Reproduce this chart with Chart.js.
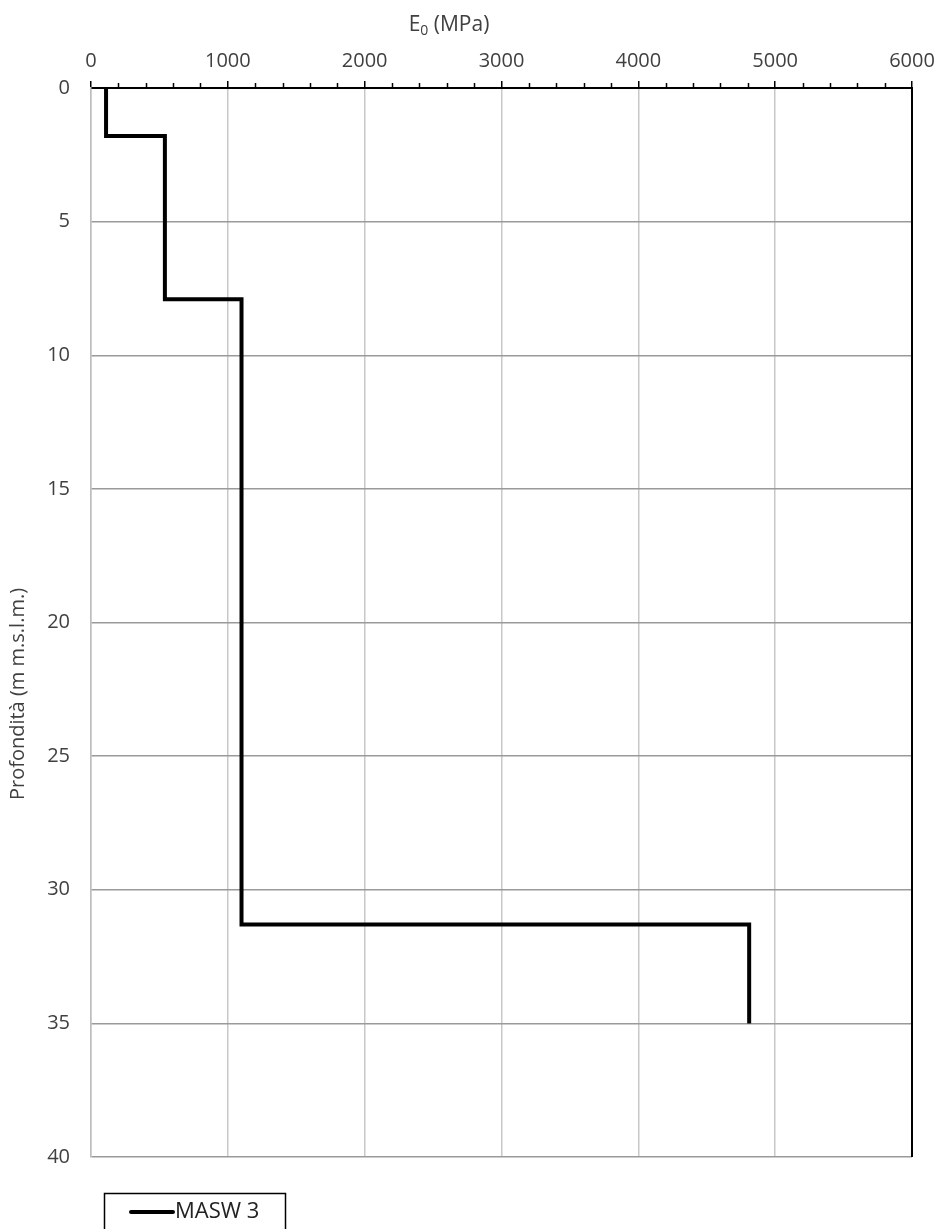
<!DOCTYPE html>
<html>
<head>
<meta charset="utf-8">
<script src="https://cdn.jsdelivr.net/npm/chart.js@4/dist/chart.umd.min.js"></script>
<style>
  html, body { margin: 0; padding: 0; background: #ffffff; }
  #wrap { width: 939px; height: 1229px; position: relative; }
  canvas { display: block; }
</style>
</head>
<body>
<div id="wrap"><canvas id="c" width="939" height="1229"></canvas></div>
<script>
// ---- Data ----
const seriesName = 'MASW 3';
const E0_values = [110, 110, 540, 540, 1100, 1100, 4810, 4810];      // MPa
const depth_values = [0, 1.8, 1.8, 7.9, 7.9, 31.3, 31.3, 35];        // m
const xAxisMin = 0, xAxisMax = 6000, xMajorStep = 1000, xMinorStep = 200;
const yAxisMin = 0, yAxisMax = 40, yStep = 5;
const xTitleMain = 'E';
const xTitleSub = '0';
const xTitleRest = ' (MPa)';
const yTitle = 'Profondità (m m.s.l.m.)';

const FONT = "'Open Sans', 'Liberation Sans', sans-serif";
const TEXT_COLOR = '#404040';

const points = E0_values.map((x, i) => ({ x: x, y: depth_values[i] }));

const decorPlugin = {
  id: 'decor',
  afterDraw(chart) {
    const ctx = chart.ctx;
    const xs = chart.scales.x;
    const a = chart.chartArea;
    ctx.save();
    // minor ticks on top axis
    ctx.strokeStyle = '#000';
    ctx.lineWidth = 1.5;
    for (let v = xAxisMin; v <= xAxisMax; v += xMinorStep) {
      if (v % xMajorStep === 0) continue;
      const px = Math.round(xs.getPixelForValue(v)) + 0.5;
      ctx.beginPath();
      ctx.moveTo(px, a.top);
      ctx.lineTo(px, a.top - 5);
      ctx.stroke();
    }
    // right border (black)
    ctx.lineWidth = 2;
    ctx.beginPath();
    ctx.moveTo(a.right, a.top - 1);
    ctx.lineTo(a.right, a.bottom);
    ctx.stroke();

    // x title with subscript
    ctx.fillStyle = TEXT_COLOR;
    ctx.textBaseline = 'alphabetic';
    ctx.textAlign = 'left';
    const mainFont = '21px ' + FONT;
    const subFont = '14px ' + FONT;
    ctx.font = mainFont;
    const wE = ctx.measureText(xTitleMain).width;
    const wR = ctx.measureText(xTitleRest).width;
    ctx.font = subFont;
    const wS = ctx.measureText(xTitleSub).width;
    const total = wE + wS + wR;
    const cx = 449;
    let x0 = cx - total / 2;
    const base = 31;
    ctx.font = mainFont;
    ctx.fillText(xTitleMain, x0, base);
    ctx.font = subFont;
    ctx.fillText(xTitleSub, x0 + wE, base + 4);
    ctx.font = mainFont;
    ctx.fillText(xTitleRest, x0 + wE + wS, base);

    // y title rotated
    ctx.save();
    ctx.translate(18, 694);
    ctx.rotate(-Math.PI / 2);
    ctx.textAlign = 'center';
    ctx.textBaseline = 'middle';
    ctx.font = '20px ' + FONT;
    ctx.fillText(yTitle, 0, 0);
    ctx.restore();

    // legend box
    const ds = chart.data.datasets[0];
    ctx.strokeStyle = '#000';
    ctx.lineWidth = 1.5;
    ctx.strokeRect(104.5, 1193.5, 181, 60);
    ctx.lineWidth = 4;
    ctx.lineCap = 'round';
    ctx.beginPath();
    ctx.moveTo(131, 1212);
    ctx.lineTo(173, 1212);
    ctx.stroke();
    ctx.fillStyle = '#222';
    ctx.font = '22px ' + FONT;
    ctx.textAlign = 'left';
    ctx.textBaseline = 'middle';
    ctx.fillText(ds.label, 175, 1212);
    ctx.restore();
  }
};

new Chart(document.getElementById('c'), {
  type: 'scatter',
  data: {
    datasets: [{
      label: seriesName,
      data: points,
      showLine: true,
      borderColor: '#000000',
      backgroundColor: '#000000',
      borderWidth: 4,
      pointRadius: 0,
      pointHoverRadius: 0,
      borderJoinStyle: 'miter',
      borderCapStyle: 'butt',
      tension: 0
    }]
  },
  options: {
    responsive: false,
    animation: false,
    devicePixelRatio: 1,
    layout: { padding: { left: 0, top: 0, right: 27, bottom: 72 } },
    plugins: {
      legend: { display: false },
      title: { display: false },
      tooltip: { enabled: false }
    },
    scales: {
      x: {
        type: 'linear',
        position: 'top',
        min: xAxisMin,
        max: xAxisMax,
        afterFit(scale) {
          scale.height = 88;
          scale.paddingLeft = 0;
          scale.paddingRight = 0;
        },
        ticks: {
          stepSize: xMajorStep,
          color: TEXT_COLOR,
          font: { family: FONT, size: 20 },
          padding: 8,
          maxRotation: 0,
          callback: (v) => String(v)
        },
        grid: {
          color: '#c8c8c8',
          lineWidth: 1.5,
          drawTicks: true,
          tickLength: 7,
          tickColor: '#000000',
          tickWidth: 1.5
        },
        border: { display: true, color: '#000000', width: 2 }
      },
      y: {
        type: 'linear',
        position: 'left',
        reverse: true,
        min: yAxisMin,
        max: yAxisMax,
        afterFit(scale) {
          scale.width = 91;
          scale.paddingTop = 0;
          scale.paddingBottom = 0;
        },
        ticks: {
          stepSize: yStep,
          color: TEXT_COLOR,
          font: { family: FONT, size: 20 },
          padding: 21,
          callback: (v) => String(v)
        },
        grid: {
          color: '#9a9a9a',
          lineWidth: 1.5,
          drawTicks: false
        },
        border: { display: true, color: '#bdbdbd', width: 1.5 }
      }
    }
  },
  plugins: [decorPlugin]
});
</script>
</body>
</html>
